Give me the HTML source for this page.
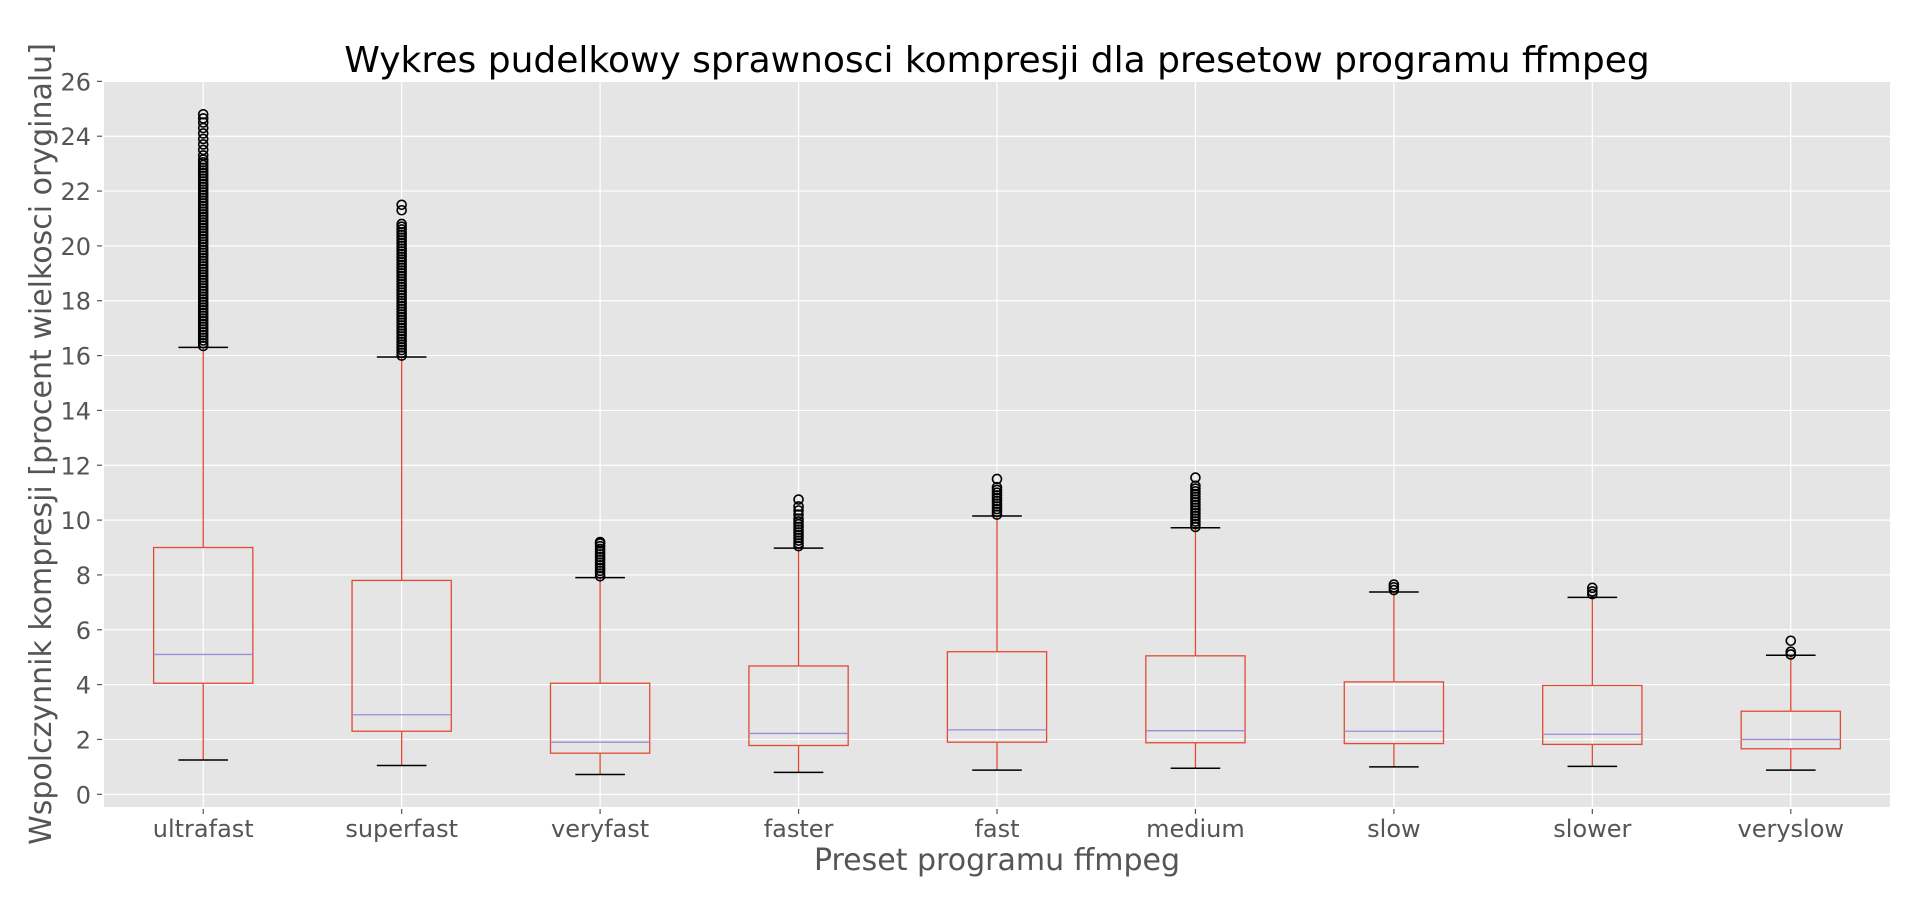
<!DOCTYPE html>
<html><head><meta charset="utf-8"><style>
html,body{margin:0;padding:0;background:#fff;}
svg{display:block;font-family:"DejaVu Sans","Liberation Sans",sans-serif;}
</style></head><body>
<svg id="chart" width="1920" height="902" viewBox="0 0 1920 902">
<rect x="104" y="81" width="1786" height="726" fill="#e5e5e5"/>
<g id="grid"></g>
<g id="yaxis"></g>
<g id="xaxis"></g>
<g id="boxes"></g>
<text x="997" y="72" text-anchor="middle" font-size="36" fill="#000">Wykres pudelkowy sprawnosci kompresji dla presetow programu ffmpeg</text>
<text x="997" y="870" text-anchor="middle" font-size="30" fill="#555">Preset programu ffmpeg</text>
<text transform="translate(51,444) rotate(-90)" text-anchor="middle" font-size="30" fill="#555">Wspolczynnik kompresji [procent wielkosci oryginalu]</text>
</svg>
<script>
const categories = ["ultrafast","superfast","veryfast","faster","fast","medium","slow","slower","veryslow"];
const whiskerLow = [1.25,1.05,0.72,0.8,0.88,0.95,1.0,1.02,0.88];
const q1 = [4.05,2.3,1.5,1.78,1.9,1.88,1.85,1.82,1.66];
const median = [5.1,2.9,1.9,2.22,2.35,2.32,2.3,2.19,2.0];
const q3 = [9.0,7.8,4.05,4.68,5.2,5.05,4.1,3.97,3.03];
const whiskerHigh = [16.3,15.95,7.9,8.98,10.15,9.72,7.38,7.18,5.07];
const outliers = [
 [16.35,16.45,16.55,16.65,16.75,16.85,16.95,17.05,17.15,17.25,17.35,17.45,17.55,17.65,17.75,17.85,17.95,18.05,18.15,18.25,18.35,18.45,18.55,18.65,18.75,18.85,18.95,19.05,19.15,19.25,19.35,19.45,19.55,19.65,19.75,19.85,19.95,20.05,20.15,20.25,20.35,20.45,20.55,20.65,20.75,20.85,20.95,21.05,21.15,21.25,21.35,21.45,21.55,21.65,21.75,21.85,21.95,22.05,22.15,22.25,22.35,22.45,22.55,22.65,22.75,22.85,22.95,23.05,23.15,23.3,23.5,23.7,23.9,24.1,24.3,24.5,24.65,24.8],
 [16.0,16.1,16.2,16.3,16.4,16.5,16.6,16.7,16.8,16.9,17.0,17.1,17.2,17.3,17.4,17.5,17.6,17.7,17.8,17.9,18.0,18.1,18.2,18.3,18.4,18.5,18.6,18.7,18.8,18.9,19.0,19.1,19.2,19.3,19.4,19.5,19.6,19.7,19.8,19.9,20.0,20.1,20.2,20.3,20.4,20.5,20.6,20.7,20.8,21.3,21.5],
 [7.95,8.05,8.15,8.25,8.35,8.45,8.55,8.65,8.75,8.85,8.95,9.05,9.15,9.2],
 [9.05,9.15,9.25,9.35,9.45,9.55,9.65,9.75,9.85,9.95,10.05,10.2,10.35,10.5,10.75],
 [10.2,10.3,10.4,10.5,10.6,10.7,10.8,10.9,11.0,11.1,11.2,11.5],
 [9.75,9.85,9.95,10.05,10.15,10.25,10.35,10.45,10.55,10.65,10.75,10.85,10.95,11.05,11.15,11.25,11.55],
 [7.45,7.55,7.65],
 [7.3,7.4,7.53],
 [5.1,5.2,5.6]
];
const yTicks = [0,2,4,6,8,10,12,14,16,18,20,22,24,26];

const NS="http://www.w3.org/2000/svg";
const left=104,right=1890;
const y=v=>794.3-v*27.42;
const step=(right-left)/categories.length;
const x=i=>left+step*(i+0.5);
function mk(tag,attrs,parent){const e=document.createElementNS(NS,tag);for(const k in attrs)e.setAttribute(k,attrs[k]);parent.appendChild(e);return e;}
const grid=document.getElementById('grid'),ya=document.getElementById('yaxis'),xa=document.getElementById('xaxis'),bx=document.getElementById('boxes');
yTicks.forEach(t=>{
 const g=mk('line',{x1:left,x2:right,y1:y(t),y2:y(t),stroke:'#fff','stroke-width':1.2},grid);
 
 
 const tk=mk('line',{x1:97,x2:102,y1:y(t),y2:y(t),stroke:'#555','stroke-width':1.2},ya);
 
 
 const tl=mk('text',{x:91,y:y(t)+9,'text-anchor':'end','font-size':24,fill:'#555'},ya);
 tl.textContent=t;
 
 
});
categories.forEach((c,i)=>{
 const cx=x(i);
 const g=mk('line',{x1:cx,x2:cx,y1:81,y2:807,stroke:'#fff','stroke-width':1.2},grid);
 
 
 const tk=mk('line',{x1:cx,x2:cx,y1:809,y2:814,stroke:'#555','stroke-width':1.2},xa);
 
 
 const tl=mk('text',{x:cx,y:837,'text-anchor':'middle','font-size':24,fill:'#555'},xa);
 tl.textContent=c;
 
 
 const grp=mk('g',{},bx);
 
 
 const hw=step*0.25,cw=step*0.125;
 mk('line',{x1:cx,x2:cx,y1:y(whiskerLow[i]),y2:y(q1[i]),stroke:'#e24a33','stroke-width':1.3},grp);
 mk('line',{x1:cx,x2:cx,y1:y(q3[i]),y2:y(whiskerHigh[i]),stroke:'#e24a33','stroke-width':1.3},grp);
 mk('rect',{x:cx-hw,y:y(q3[i]),width:hw*2,height:y(q1[i])-y(q3[i]),fill:'none',stroke:'#e24a33','stroke-width':1.3},grp);
 mk('line',{x1:cx-hw,x2:cx+hw,y1:y(median[i]),y2:y(median[i]),stroke:'#988ed5','stroke-width':1.3},grp);
 mk('line',{x1:cx-cw,x2:cx+cw,y1:y(whiskerLow[i]),y2:y(whiskerLow[i]),stroke:'#000','stroke-width':1.5},grp);
 mk('line',{x1:cx-cw,x2:cx+cw,y1:y(whiskerHigh[i]),y2:y(whiskerHigh[i]),stroke:'#000','stroke-width':1.5},grp);
 outliers[i].forEach(v=>{
  const o=mk('circle',{cx:cx,cy:y(v),r:4.5,fill:'none',stroke:'#000','stroke-width':1.6},grp);
  
  
 });
});
</script>
</body></html>
